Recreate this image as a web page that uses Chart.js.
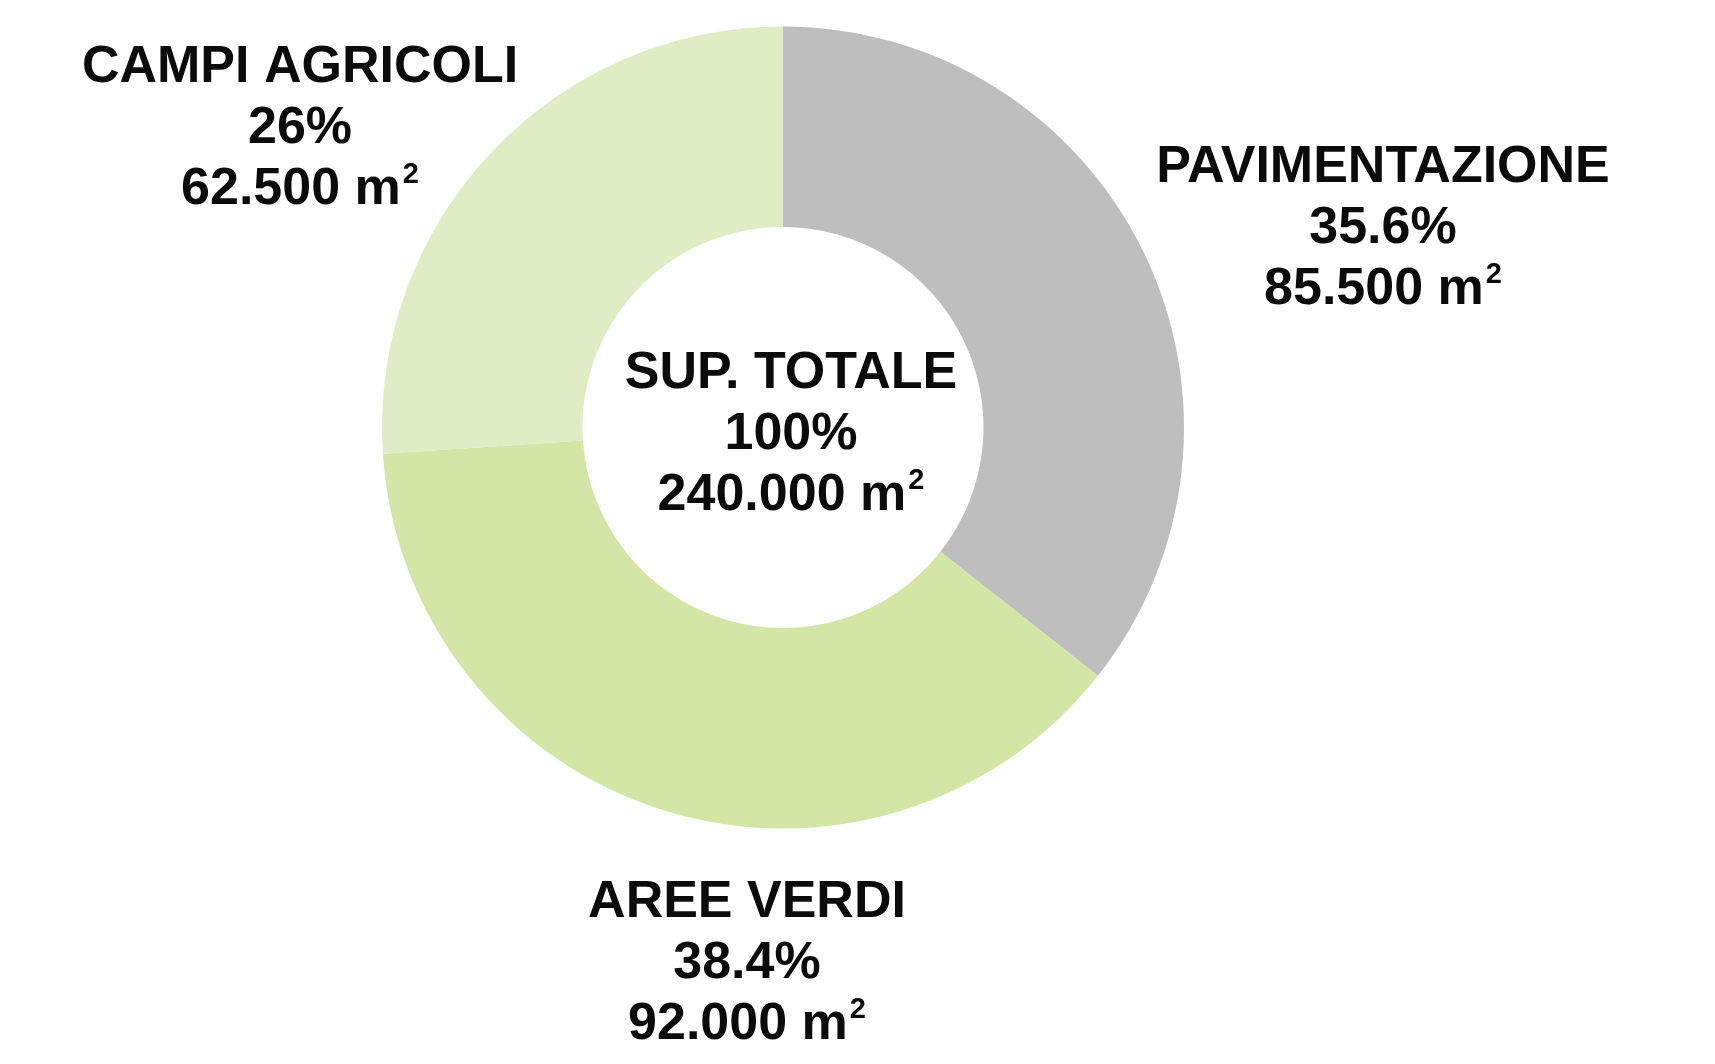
<!DOCTYPE html>
<html>
<head>
<meta charset="utf-8">
<script src="https://cdn.jsdelivr.net/npm/chart.js@4"></script>
<style>
  html, body { margin: 0; padding: 0; background: #fff; }
  #wrap { position: relative; width: 1715px; height: 1064px; }
</style>
</head>
<body>
<div id="wrap"><canvas id="grafico"></canvas></div>
<script>
// superfici in m²
const categorie = ["PAVIMENTAZIONE", "AREE VERDI", "CAMPI AGRICOLI"];
const superfici = [85500, 92000, 62500];
const percentuali = ["35.6%", "38.4%", "26%"];
const colori = ["#bebebe", "#d4e6a6", "#e0ecc4"];
const titoloTotale = "SUP. TOTALE";
const percTotale = "100%";

function formatoMq(v) {
  return String(v).replace(/\B(?=(\d{3})+(?!\d))/g, ".");
}

// posizione delle etichette (x centro, baseline prima riga)
const posEtichette = [
  { x: 1383, y: 182 },
  { x: 747, y: 917 },
  { x: 300, y: 82 }
];
const posCentro = { x: 791, y: 388 };
const interlinea = 61;
const FONT = "bold 52px 'Liberation Sans', Arial, sans-serif";
const FONT_SUP = "bold 29px 'Liberation Sans', Arial, sans-serif";

function scriviBlocco(ctx, x, y, righe) {
  righe.forEach((r, i) => {
    const yy = y + i * interlinea;
    if (r.mq) {
      ctx.font = FONT;
      const base = r.testo + " m";
      const w1 = ctx.measureText(base).width;
      ctx.font = FONT_SUP;
      const w2 = ctx.measureText("2").width;
      const x0 = x - (w1 + w2 + 2) / 2;
      ctx.textAlign = "left";
      ctx.font = FONT;
      ctx.fillText(base, x0, yy);
      ctx.font = FONT_SUP;
      ctx.fillText("2", x0 + w1 + 2, yy - 21);
    } else {
      ctx.textAlign = "center";
      ctx.font = FONT;
      ctx.fillText(r.testo, x, yy);
    }
  });
}

const etichette = {
  id: "etichette",
  afterDraw(chart) {
    const ctx = chart.ctx;
    ctx.save();
    ctx.fillStyle = "#0b0b0b";
    ctx.textBaseline = "alphabetic";
    categorie.forEach((c, i) => {
      scriviBlocco(ctx, posEtichette[i].x, posEtichette[i].y, [
        { testo: c },
        { testo: percentuali[i] },
        { testo: formatoMq(superfici[i]), mq: true }
      ]);
    });
    const totale = superfici.reduce((a, b) => a + b, 0);
    scriviBlocco(ctx, posCentro.x, posCentro.y, [
      { testo: titoloTotale },
      { testo: percTotale },
      { testo: formatoMq(totale), mq: true }
    ]);
    ctx.restore();
  }
};

new Chart(document.getElementById("grafico"), {
  type: "doughnut",
  data: {
    labels: categorie,
    datasets: [{
      data: superfici,
      backgroundColor: colori,
      borderWidth: 0
    }]
  },
  options: {
    responsive: true,
    maintainAspectRatio: false,
    animation: false,
    cutout: "50%",
    layout: { padding: { left: 382, right: 531, top: 26, bottom: 235 } },
    plugins: {
      legend: { display: false },
      tooltip: { enabled: false }
    }
  },
  plugins: [etichette]
});
</script>
</body>
</html>
